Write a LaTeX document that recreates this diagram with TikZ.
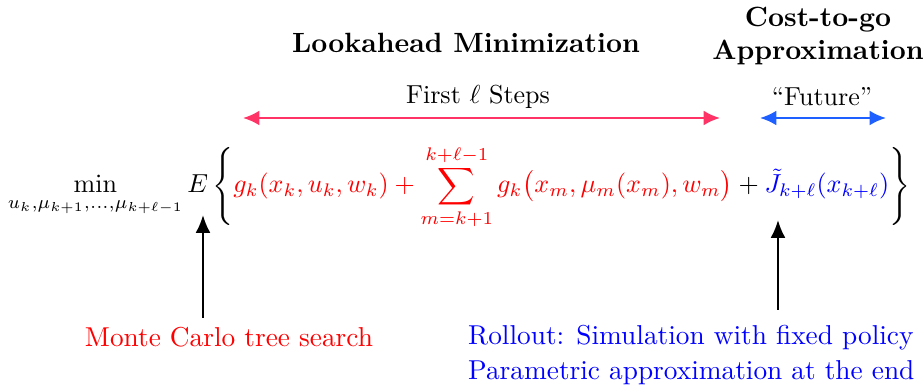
\documentclass[tikz,border=0pt]{standalone}
\usepackage{amsmath,amssymb}
\usepackage{xcolor}
\usetikzlibrary{arrows.meta,positioning}
\definecolor{lookred}{RGB}{255,51,102}
\definecolor{futblue}{RGB}{30,95,255}
\tikzset{
  head/.style={font=\fontsize{10.7}{12.3}\selectfont\bfseries, align=center},
  bottom/.style={font=\fontsize{10.5}{12.6}\selectfont},
  span/.style={{Latex[length=2.2mm,width=2mm]}-{Latex[length=2.2mm,width=2mm]}, line width=0.9pt},
  pointer/.style={-{Latex[length=2.4mm,width=2mm]}, line width=0.8pt},
}

\begin{document}
\begin{tikzpicture}[x=0.0135cm,y=-0.0135cm,>=Latex]
    \useasboundingbox (0,0) rectangle (923,386);
    % headings
    \node[head] (look) at (466,43) {Lookahead Minimization};
    \node[head] (cost) at (818,36) {Cost-to-go\\Approximation};
    % spans over the formula
    \node (first) at (478,97) {First $\ell$ Steps};
    \node (future) at (822,97) {``Future''};
    \coordinate (fl) at (243,118);
    \coordinate (fr) at (720,118);
    \coordinate (ul) at (760,118);
    \coordinate (ur) at (886,118);
    \draw[span, lookred] (fl) -- (fr);
    \draw[span, futblue] (ul) -- (ur);
    % the formula
    \node (eq) at (459,187) {$\displaystyle \min_{u_k,\mu_{k+1},\ldots,\mu_{k+\ell-1}} E\left\{\color{red} g_k(x_k,u_k,w_k)+\sum_{m=k+1}^{k+\ell-1} g_k\bigl(x_m,\mu_m(x_m),w_m\bigr)\color{black}+\color{blue}\tilde J_{k+\ell}(x_{k+\ell})\color{black}\right\}$};
    % labels below
    \node[bottom, text=red] (mcts) at (229,337) {Monte Carlo tree search};
    \node[bottom, text=blue, align=left, anchor=west] (roll) at (459,355) {Rollout: Simulation with fixed policy\\[1pt]Parametric approximation at the end};
    \coordinate (mctsup) at (203,318);
    \coordinate (etip) at (203,215);
    \coordinate (rollup) at (778,310);
    \coordinate (jtip) at (778,220);
    \draw[pointer] (mctsup) -- (etip);
    \draw[pointer] (rollup) -- (jtip);
\end{tikzpicture}
\end{document}
